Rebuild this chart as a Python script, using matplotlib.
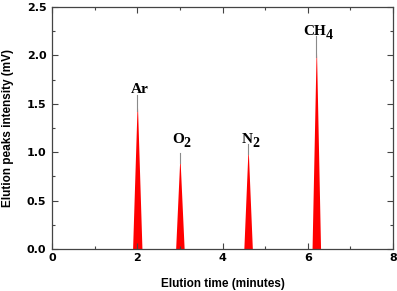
import matplotlib.pyplot as plt
import numpy as np

# peak data
gases = ["Ar", "O", "N", "CH"]
gas_subscripts = ["", "2", "2", "4"]
peak_times = [2.0, 3.0, 4.6, 6.2]
peak_heights = [1.59, 0.99, 1.09, 2.20]
half_widths = [0.11, 0.1, 0.1, 0.1]

# where the labels sit (left edge, baseline) in data units
label_x = [1.85, 2.81, 4.45, 5.90]
label_y = [1.61, 1.10, 1.10, 2.21]


def main():
    fig = plt.figure(figsize=(3.97, 2.91), dpi=100)
    ax = fig.add_axes([0.131, 0.144, 0.859, 0.832])

    for t, h, w in zip(peak_times, peak_heights, half_widths):
        xs = np.linspace(t - w, t + w, 81)
        shape = h * 0.97 * (1 - np.abs(xs - t) / w)
        ax.fill_between(xs, 0, shape, color="#ff0000", linewidth=0)
        ax.plot([t, t], [h * 0.9, h], color="#8a8a8a", linewidth=0.8)

    for name, sub, x, y in zip(gases, gas_subscripts, label_x, label_y):
        base = ax.text(x, y, name, ha="left", va="baseline",
                       family="Liberation Serif", fontweight="bold",
                       fontsize=11)
        if sub:
            ax.annotate(sub, xy=(1, 0), xycoords=base, xytext=(-0.3, -0.8),
                        textcoords="offset points", ha="left",
                        va="baseline", family="Liberation Serif",
                        fontweight="bold", fontsize=10)

    ax.set_xlim(0, 8)
    ax.set_ylim(0, 2.5)
    ax.set_xticks([0, 2, 4, 6, 8])
    ax.set_xticks([1, 3, 5, 7], minor=True)
    ax.set_yticks([0.0, 0.5, 1.0, 1.5, 2.0, 2.5])
    ax.set_yticks(np.arange(0.25, 2.5, 0.5), minor=True)
    ax.set_yticklabels(["0.0", "0.5", "1.0", "1.5", "2.0", "2.5"])

    ax.tick_params(which="both", direction="in", top=True, right=True,
                   color="#444444", width=0.8)
    ax.tick_params(which="major", length=4)
    ax.tick_params(which="minor", length=2.5)
    ax.tick_params(axis="x", pad=2.5)
    ax.tick_params(axis="y", pad=4)
    for label in ax.get_xticklabels() + ax.get_yticklabels():
        label.set_family("DejaVu Sans")
        label.set_fontweight("bold")
        label.set_fontsize(8)
    for spine in ax.spines.values():
        spine.set_color("#444444")
        spine.set_linewidth(0.9)

    ax.set_xlabel("Elution time (minutes)", family="Liberation Sans",
                  fontweight="bold", fontsize=8.5, labelpad=11)
    ax.set_ylabel("Elution peaks intensity (mV)", family="Liberation Sans",
                  fontweight="bold", fontsize=8.5, labelpad=9)

    fig.savefig("out.png", dpi=100)


if __name__ == "__main__":
    main()
